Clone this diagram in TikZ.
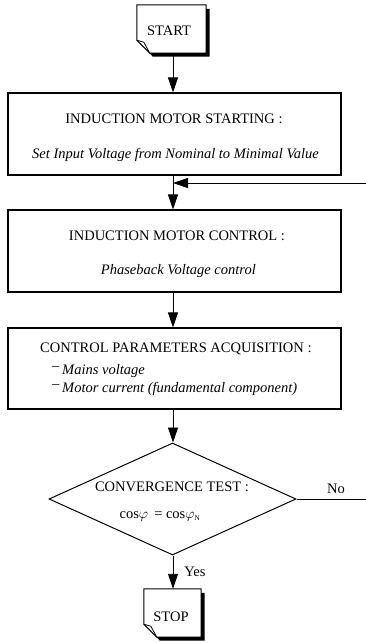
\documentclass[tikz,border=0pt]{standalone}
\usepackage{fontspec}
\setmainfont{Liberation Serif}
\usetikzlibrary{arrows.meta,shapes.geometric,calc}
\newcommand\docframe[1]{%
  \fill ($(#1.north east)+(0,4)$) -- ($(#1.north east)+(3.5,4)$) -- ($(#1.south east)+(3.5,3.5)$) -- ($(#1.south west)+(16,3.5)$) -- ($(#1.south west)+(13,0)$) -- (#1.south east) -- cycle;
  \draw[line width=1pt] (#1.north west) -- (#1.north east) -- (#1.south east) -- ($(#1.south west)+(13,0)$) -- ($(#1.south west)+(0,-13)$) -- cycle;
  \draw[line width=0.8pt] ($(#1.south west)+(0,-13)$) -- ($(#1.south west)+(7,-11)$) -- ($(#1.south west)+(13,0)$);
}
\begin{document}
\begin{tikzpicture}[x=1pt,y=-1pt,
  box/.style={draw,line width=1.1pt,minimum width=333pt,inner sep=0pt},
  docnode/.style={inner sep=0pt,font=\fontsize{14.5}{17}\selectfont},
  txt/.style={inner sep=0pt,anchor=base,font=\fontsize{14.5}{17}\selectfont},
  itx/.style={txt,font=\fontsize{14.5}{17}\selectfont\itshape},
  flow/.style={line width=0.9pt,-{Triangle[width=10pt,length=15pt]}},
  plain/.style={line width=0.9pt}
]
\useasboundingbox (0,0) rectangle (366,643);
\coordinate (sp) at (173,0);

% START
\node[docnode,minimum width=69pt,minimum height=48pt] (start) at (171.5,29) {};
\docframe{start}
\node[txt] (startt) at (169,35) {START};

% boxes
\node[box,minimum height=82pt] (b1) at (174.5,134) {};
\node[txt] (b1t) at (174,123) {INDUCTION MOTOR STARTING :};
\node[itx] (b1i) at (175.5,158) {Set Input Voltage from Nominal to Minimal Value};

\node[box,minimum height=82pt] (b2) at (174.5,251) {};
\node[txt] (b2t) at (177,240) {INDUCTION MOTOR CONTROL :};
\node[itx,anchor=base east] (b2i) at (256,274) {Phaseback Voltage control};

\node[box,minimum height=81pt] (b3) at (174.5,368.5) {};
\node[txt,anchor=base west] (b3t) at (40,352) {CONTROL PARAMETERS ACQUISITION :};
\node[txt,anchor=base west] (d1) at (52,370.5) {–};
\node[itx,anchor=base west] (b3a) at (62,374) {Mains voltage};
\node[txt,anchor=base west] (d2) at (52,388.5) {–};
\node[itx,anchor=base west] (b3b) at (62,392) {Motor current (fundamental component)};

% decision
\node[diamond,draw,line width=1pt,minimum width=247pt,minimum height=112pt,inner sep=0pt] (dec) at (172.5,499) {};
\node[txt] (dect) at (172,491) {CONVERGENCE TEST :};
\node[txt] (decc) at (160,518) {cos$\varphi$\ \,= cos$\varphi_{\scriptscriptstyle\mathrm{N}}$};

% STOP
\node[docnode,minimum width=57pt,minimum height=48pt] (stop) at (172.5,613) {};
\docframe{stop}
\node[txt] (stopt) at (171,621) {STOP};

% connectors
\coordinate (fbR) at (366,183);
\coordinate (fbJ) at (173,183);
\coordinate (noR) at (366,499);
\draw[flow] (start.south -| sp) -- (b1.north -| sp);
\draw[flow] (b1.south -| sp) -- (b2.north -| sp);
\draw[flow] (fbR) -- (fbJ);
\draw[flow] (b2.south -| sp) -- (b3.north -| sp);
\draw[flow] (b3.south -| sp) -- (dec.north -| sp);
\draw[plain] (dec.east) -- (noR);
\draw[flow] (dec.south -| sp) -- (stop.north -| sp);
\node[txt] (nolab) at (336,493) {No};
\node[txt] (yeslab) at (195,576) {Yes};
\end{tikzpicture}
\end{document}
